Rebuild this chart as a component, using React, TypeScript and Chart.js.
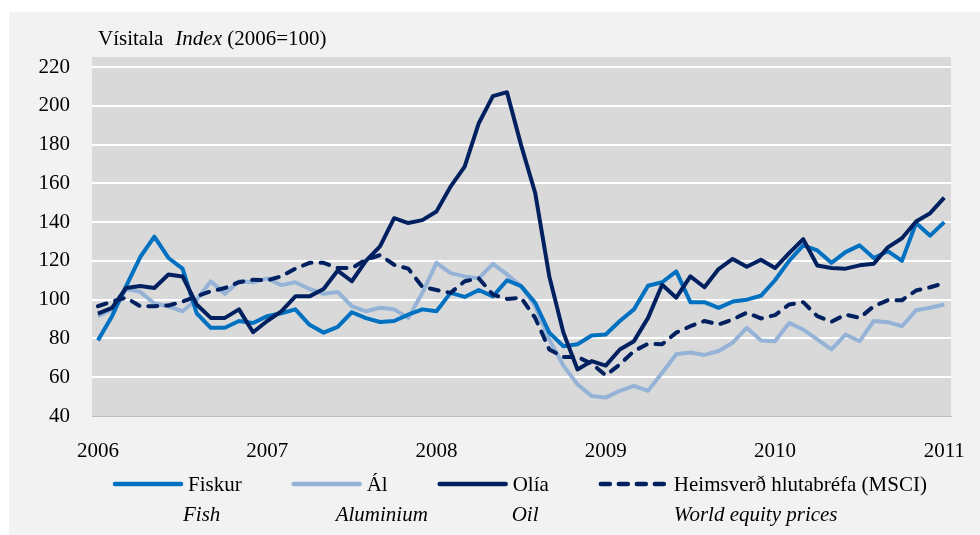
import React, { useEffect, useRef } from "react";
import { Chart, registerables } from "chart.js";

Chart.register(...registerables);

// Monthly observations, Jan 2006 .. Jan 2011 (61 months)
const YEARS = ["2006", "2007", "2008", "2009", "2010", "2011"];
const Y_TICKS = [40, 60, 80, 100, 120, 140, 160, 180, 200, 220];

const FISKUR = [
  79, 91.5, 107, 122, 132.5, 121.5, 116, 93, 85.5, 85.5, 89, 88,
  91.5, 93, 95, 87, 83, 86, 93.5, 90.5, 88.5, 89, 92.3, 95,
  94, 103.5, 101.4, 105, 101.7, 110, 107, 98.4, 83, 76, 77, 81.5,
  82, 89, 95, 107.2, 109, 114.6, 98.7, 98.7, 95.8, 99, 100, 102,
  110, 120, 128, 125.4, 119, 124.5, 128, 121.5, 125, 120, 139.5, 133,
  140,
];
const AL = [
  91.5, 95, 105.5, 104, 98, 96.6, 94, 100, 109.5, 103, 109.5, 109,
  111, 107.5, 109, 105.5, 103, 104, 96.6, 94, 95.8, 95, 90.6, 103.5,
  119, 113.7, 112, 111, 118.5, 113, 107, 96.6, 79.5, 66, 56.3, 50.3,
  49.5, 53, 55.5, 53, 62.3, 71.8, 72.7, 71.5, 73.5, 77.8, 85.5, 79,
  78.6, 88, 84.6, 79.5, 74.3, 82, 78.6, 89, 88.4, 86.3, 94.5, 95.8,
  97.5,
];
const OLIA = [
  92.8, 95.8, 106, 107, 106, 113, 112, 97.5, 90.6, 90.6, 95, 83.2,
  89, 94, 101.7, 101.7, 105.5, 115, 109.5, 120, 127.5, 142, 139.5, 141,
  145.5, 158.3, 168.6, 191, 205, 207, 179.7, 155, 112, 83, 64, 68.3,
  66, 74.3, 78.6, 90.6, 107.7, 101, 112, 106.4, 115.8, 121, 117, 120.6,
  116.3, 124, 131.2, 117.6, 116.3, 116, 117.7, 118.5, 127, 131.7, 140.3, 144.6,
  152.6,
];
const MSCI = [
  96.6, 99, 101, 96.6, 96.6, 97, 99, 101.7, 104.3, 106, 109, 110.3,
  110, 112, 116, 119, 119, 116.3, 116.3, 120.6, 123, 118, 116, 106.6,
  105, 103.5, 109.5, 111, 102.6, 100.4, 101, 90.6, 74.3, 70.4, 70.4, 67,
  61, 66.6, 73.5, 77.2, 77, 83, 86.3, 89, 87.2, 89.8, 93.3, 90.3,
  92, 97.5, 98.7, 91.5, 88.6, 92.3, 90.6, 96.6, 99.7, 99.7, 104.7, 106.4,
  108.5,
];

const SERIES_IS = ["Fiskur", "Ál", "Olía", "Heimsverð hlutabréfa (MSCI)"];
const SERIES_EN = ["Fish", "Aluminium", "Oil", "World equity prices"];
const EN_OFFSET = [-5, -31, -1, 0];

const FONT = "'Liberation Serif', 'Times New Roman', serif";
const FS = 21;

const toPoints = (arr: number[]) => arr.map((v, i) => ({ x: i, y: v }));

const decor = {
  id: "decor",
  beforeDraw(chart: any) {
    const { ctx, chartArea: a } = chart;
    ctx.save();
    ctx.fillStyle = "#D9D9D9";
    ctx.fillRect(a.left, a.top, a.right - a.left, a.bottom - a.top);
    ctx.restore();
  },
  afterDraw(chart: any) {
    const ctx = chart.ctx as CanvasRenderingContext2D;
    ctx.save();
    ctx.fillStyle = "#000";
    ctx.textBaseline = "middle";
    ctx.textAlign = "left";
    // Title
    const ty = 39;
    let x = 98;
    ctx.font = `${FS}px ${FONT}`;
    ctx.fillText("Vísitala", x, ty);
    x += ctx.measureText("Vísitala").width + 12;
    ctx.font = `italic ${FS}px ${FONT}`;
    ctx.fillText("Index", x, ty);
    x += ctx.measureText("Index").width;
    ctx.font = `${FS}px ${FONT}`;
    x += ctx.measureText(" ").width;
    ctx.fillText("(2006=100)", x, ty);

    // Legend
    let lx = 113;
    const ly = 484;
    chart.data.datasets.forEach((ds: any, i: number) => {
      ctx.save();
      ctx.strokeStyle = ds.borderColor;
      ctx.lineWidth = 4.5;
      ctx.lineCap = "round";
      ctx.setLineDash(ds.borderDash || []);
      ctx.beginPath();
      ctx.moveTo(lx + 2, ly);
      ctx.lineTo(lx + 68, ly);
      ctx.stroke();
      ctx.restore();
      const tx = lx + 75;
      ctx.font = `${FS}px ${FONT}`;
      ctx.fillText(ds.label, tx, ly + 1);
      const w = ctx.measureText(ds.label).width;
      ctx.font = `italic ${FS}px ${FONT}`;
      ctx.fillText(SERIES_EN[i], tx + EN_OFFSET[i], 515);
      lx = tx + w + 50;
    });
    ctx.restore();
  },
};

export default function App() {
  const ref = useRef<HTMLCanvasElement | null>(null);

  useEffect(() => {
    if (!ref.current) return;
    const common = {
      pointRadius: 0,
      borderWidth: 4,
      tension: 0,
      fill: false,
      borderJoinStyle: "round" as const,
    };
    const chart = new Chart(ref.current, {
      type: "line",
      data: {
        datasets: [
          { ...common, label: SERIES_IS[0], data: toPoints(FISKUR), borderColor: "#0070C0", backgroundColor: "#0070C0", order: 2 },
          { ...common, label: SERIES_IS[1], data: toPoints(AL), borderColor: "#95B3D7", backgroundColor: "#95B3D7", order: 3 },
          { ...common, label: SERIES_IS[2], data: toPoints(OLIA), borderColor: "#002060", backgroundColor: "#002060", order: 1 },
          {
            ...common,
            label: SERIES_IS[3],
            data: toPoints(MSCI),
            borderColor: "#002060",
            backgroundColor: "#002060",
            borderDash: [9, 9],
            borderCapStyle: "round",
            order: 0,
          },
        ],
      },
      options: {
        animation: false,
        responsive: false,
        devicePixelRatio: 1,
        layout: { padding: { top: 57, right: 16, bottom: 0, left: 0 } },
        plugins: { legend: { display: false }, tooltip: { enabled: false }, title: { display: false } },
        scales: {
          x: {
            type: "linear",
            min: -0.42,
            max: 60.48,
            afterBuildTicks: (s: any) => {
              s.ticks = YEARS.map((_, i) => ({ value: i * 12 }));
            },
            afterFit: (s: any) => {
              s.height = 119;
            },
            ticks: {
              callback: (v: any) => YEARS[Math.round(Number(v) / 12)] ?? "",
              color: "#000",
              font: { family: FONT, size: FS },
              padding: 15,
              maxRotation: 0,
              autoSkip: false,
            },
            grid: { display: false },
            border: { display: true, color: "#BFBFBF", width: 1 },
          },
          y: {
            min: 40,
            max: 225.15,
            afterBuildTicks: (s: any) => {
              s.ticks = Y_TICKS.map((v) => ({ value: v }));
            },
            afterFit: (s: any) => {
              s.width = 92;
            },
            ticks: {
              color: "#000",
              font: { family: FONT, size: FS },
              padding: 22,
            },
            grid: {
              color: (c: any) => (c.tick && c.tick.value === 40 ? "rgba(0,0,0,0)" : "#FFFFFF"),
              lineWidth: 2,
              drawTicks: false,
            },
            border: { display: false },
          },
        },
      },
      plugins: [decor],
    } as any);
    return () => chart.destroy();
  }, []);

  return (
    <div style={{ position: "absolute", left: 0, top: 0, width: 980, height: 535, background: "#FFFFFF" }}>
      <div style={{ position: "absolute", left: 9, top: 12, width: 971, height: 523, background: "#F2F2F2" }} />
      <canvas
        ref={ref}
        width={980}
        height={535}
        style={{ position: "absolute", left: 0, top: 0, width: 980, height: 535 }}
      />
    </div>
  );
}
